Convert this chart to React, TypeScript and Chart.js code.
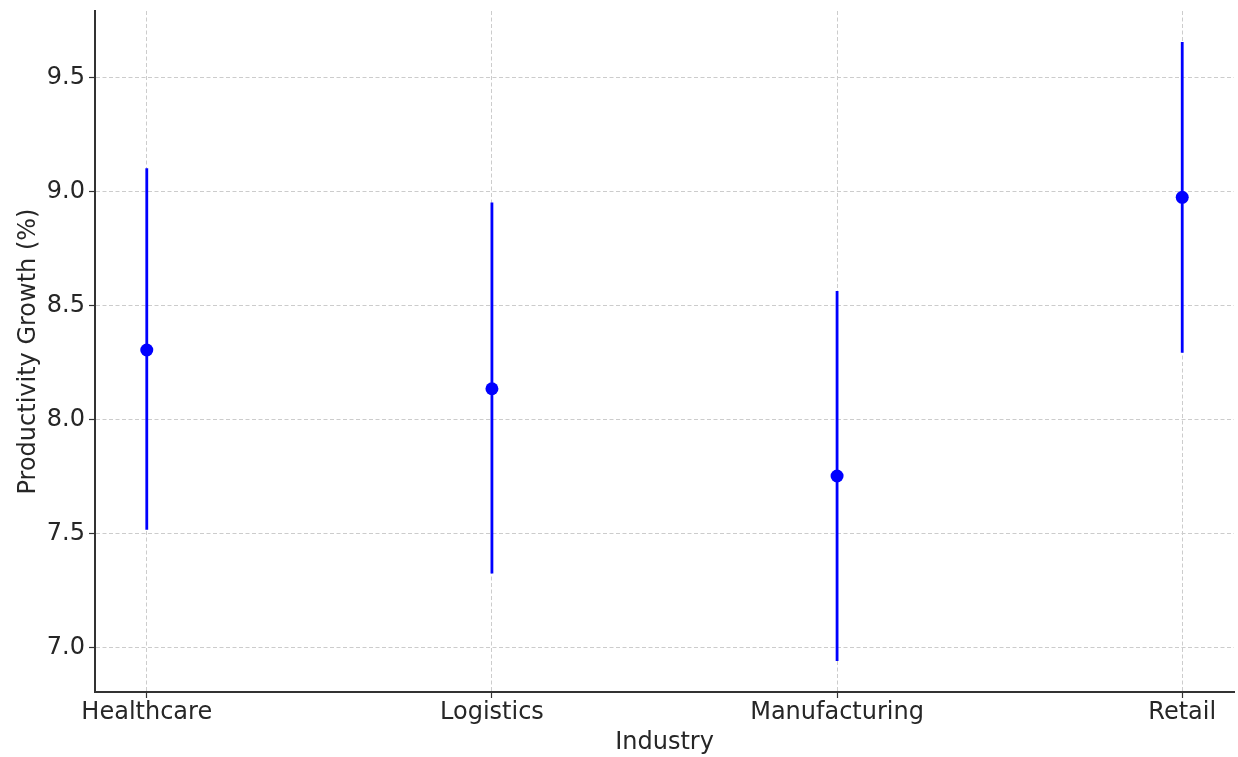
import React, { useEffect, useRef } from "react";
import { Chart, registerables } from "chart.js";

Chart.register(...registerables);

const industries = ["Healthcare", "Logistics", "Manufacturing", "Retail"];
const growth = [8.305, 8.135, 7.752, 8.975];
const errorLow = [7.516, 7.324, 6.94, 8.293];
const errorHigh = [9.103, 8.952, 8.564, 9.657];
const yTicks = [7.0, 7.5, 8.0, 8.5, 9.0, 9.5];
const yMin = 6.804;
const yMax = 9.793;

const TEXT = "#262626";
const FONT = "'DejaVu Sans', sans-serif";

export default function App() {
  const ref = useRef<HTMLCanvasElement | null>(null);

  useEffect(() => {
    if (!ref.current) return;
    const barSets = industries.map((_, i) => ({
      type: "scatter" as const,
      data: [
        { x: i, y: errorLow[i] },
        { x: i, y: errorHigh[i] },
      ],
      showLine: true,
      borderColor: "#0000ff",
      borderWidth: 2.8,
      pointRadius: 0,
      order: 2,
    }));
    const chart = new Chart(ref.current, {
      type: "scatter",
      data: {
        datasets: [
          ...barSets,
          {
            data: growth.map((g, i) => ({ x: i, y: g })),
            backgroundColor: "#0000ff",
            borderColor: "#0000ff",
            pointRadius: 6.5,
            pointBorderWidth: 0,
            showLine: false,
            order: 1,
          },
        ] as any,
      },
      options: {
        animation: false,
        responsive: true,
        maintainAspectRatio: false,
        layout: { autoPadding: false, padding: { left: 0, right: 4, top: 11, bottom: 0 } },
        plugins: { legend: { display: false }, tooltip: { enabled: false } },
        scales: {
          x: {
            type: "linear",
            min: -0.15,
            max: 3.15,
            afterBuildTicks: (s: any) => {
              s.ticks = industries.map((_, i) => ({ value: i }));
            },
            afterFit: (s: any) => {
              s.height = 65;
              s.paddingLeft = 0;
              s.paddingRight = 0;
            },
            ticks: {
              callback: (v: any) => industries[v as number] ?? "",
              font: { family: FONT, size: 24 },
              color: TEXT,
              padding: 0,
              maxRotation: 0,
              autoSkip: false,
            },
            grid: {
              color: "#cccccc",
              lineWidth: 1,
              tickLength: 6,
              tickColor: "#333333",
              tickWidth: 1.2,
            },
            border: { display: true, color: "#333333", width: 2, dash: [4, 2.5] },
            title: {
              display: true,
              text: "Industry",
              font: { family: FONT, size: 24 },
              color: TEXT,
              padding: { top: 0, bottom: 0 },
            },
          },
          y: {
            type: "linear",
            min: yMin,
            max: yMax,
            afterBuildTicks: (s: any) => {
              s.ticks = yTicks.map((v) => ({ value: v }));
            },
            afterFit: (s: any) => {
              s.width = 95;
              s.paddingTop = 0;
              s.paddingBottom = 0;
            },
            ticks: {
              callback: (v: any) => Number(v).toFixed(1),
              font: { family: FONT, size: 24 },
              color: TEXT,
              padding: 4,
            },
            grid: {
              color: "#cccccc",
              lineWidth: 1,
              tickLength: 6,
              tickColor: "#333333",
              tickWidth: 1.2,
            },
            border: { display: true, color: "#333333", width: 2, dash: [4, 2.5] },
            title: {
              display: true,
              text: "Productivity Growth (%)",
              font: { family: FONT, size: 24 },
              color: TEXT,
              padding: { top: 14, bottom: 0 },
            },
          },
        },
      },
    });
    return () => chart.destroy();
  }, []);

  return (
    <div style={{ position: "fixed", left: 0, top: 0, width: 1238, height: 757, background: "#ffffff" }}>
      <canvas ref={ref} />
    </div>
  );
}
